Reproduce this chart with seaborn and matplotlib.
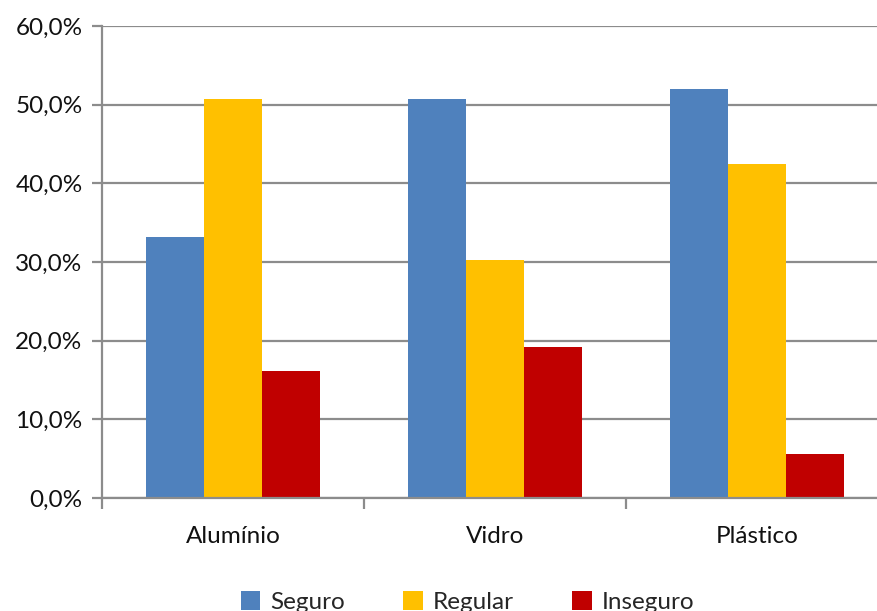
import matplotlib
matplotlib.use("Agg")
import matplotlib.pyplot as plt
import seaborn as sns
import pandas as pd
from matplotlib.patches import Patch
from matplotlib.ticker import FuncFormatter, FixedLocator

categories = ["Alumínio", "Vidro", "Plástico"]
series = ["Seguro", "Regular", "Inseguro"]
seguro = [33.2, 50.7, 52.0]
regular = [50.7, 30.2, 42.4]
inseguro = [16.2, 19.2, 5.6]
colors = ["#4F81BD", "#FFC000", "#C00000"]

rows = []
for name, vals in zip(series, [seguro, regular, inseguro]):
    for cat, v in zip(categories, vals):
        rows.append({"Material": cat, "Série": name, "Valor": v})
df = pd.DataFrame(rows)

sns.set_theme(style="white")
plt.rcParams["font.family"] = ["Lato", "DejaVu Sans"]

fig = plt.figure(figsize=(8.77, 6.11), dpi=100)
ax = fig.add_axes([102 / 877, 1 - 498 / 611, (877 - 102) / 877, (498 - 26) / 611])

sns.barplot(data=df, x="Material", y="Valor", hue="Série", order=categories,
            hue_order=series, palette=colors, saturation=1, width=0.664,
            linewidth=0, ax=ax, legend=False)

ax.set_ylim(0, 60)
ax.set_xlim(-0.5, 2.5 - 11 / 262)
ax.set_yticks(range(0, 61, 10))
ax.yaxis.set_major_formatter(FuncFormatter(lambda v, p: f"{v:.1f}%".replace(".", ",")))
ax.set_xlabel("")
ax.set_ylabel("")

grid_c = "#8C8C8C"
ax.yaxis.grid(True, color=grid_c, linewidth=1.6)
ax.set_axisbelow(True)
for s in ["top", "right"]:
    ax.spines[s].set_visible(False)
for s in ["left", "bottom"]:
    ax.spines[s].set_color(grid_c)
    ax.spines[s].set_linewidth(1.6)

fs = 17.5
ax.xaxis.set_minor_locator(FixedLocator([-0.5, 0.5, 1.5, 2.5]))
ax.tick_params(axis="x", which="major", length=0, pad=20, labelsize=fs, labelcolor="#111111")
ax.tick_params(axis="x", which="minor", length=8, width=1.6, color=grid_c, direction="out", bottom=True)
ax.tick_params(axis="y", which="major", length=7, width=1.6, color=grid_c, left=True,
               labelsize=fs, labelcolor="#111111", pad=7)

handles = [Patch(facecolor=c, edgecolor="none") for c in colors]
fig.legend(handles, series, loc="center", bbox_to_anchor=(0.533, 0.015), ncol=3,
           frameon=False, fontsize=fs, handlelength=0.8, handleheight=0.8,
           handletextpad=0.4, columnspacing=2.42)

fig.savefig("out.png", dpi=100)
